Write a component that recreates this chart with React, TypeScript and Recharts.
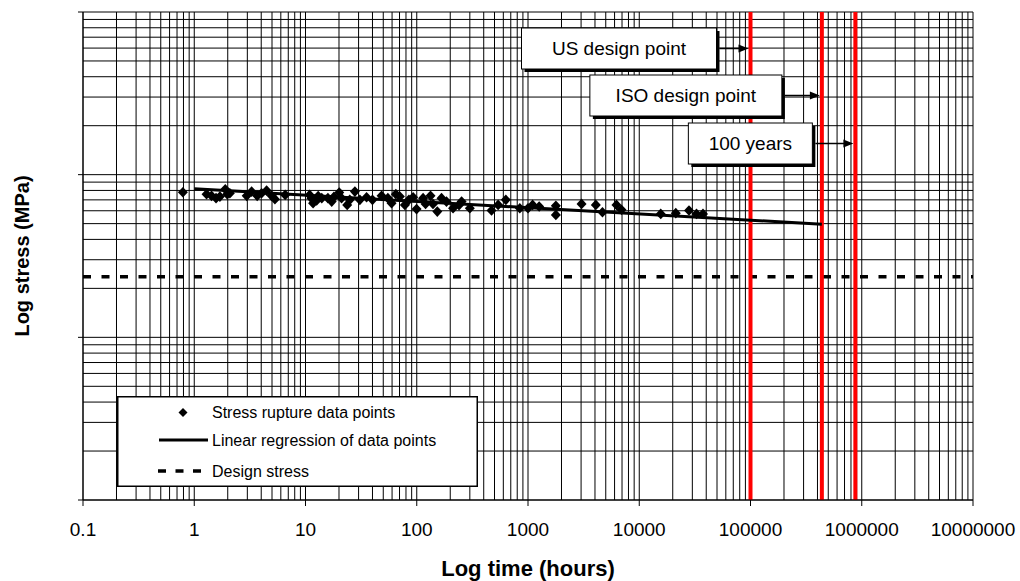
import { ScatterChart, Scatter, XAxis, YAxis, ReferenceLine, Legend } from "recharts"

const FONT = "'Liberation Sans', Arial, Helvetica, sans-serif"

// stress rupture test results
const ruptureHours = [
  0.79, 1.29, 1.43, 1.57, 1.7, 1.9, 1.98, 2.09, 2.96, 3.28,
  3.68, 4.03, 4.47, 4.96, 5.31, 6.57, 10.9, 11.3, 11.7, 12.6,
  13, 14, 15.9, 17.2, 18, 20.1, 21.1, 23.7, 25, 27.8,
  30.8, 35.4, 40, 48.3, 55, 59.4, 64.9, 70.5, 78.2, 85,
  92.8, 99.6, 114, 120, 133, 140, 153, 167, 185, 212,
  240, 253, 300, 470, 539, 632, 844, 1000, 1100, 1260,
  1780, 1780, 3030, 4070, 4670, 6240, 6920, 15600, 21300, 28000,
  32700, 37400,
]
const ruptureStress = [
  78.0, 75.9, 74.1, 71.7, 73.3, 81.4, 75.9, 76.9, 74.1, 78.7,
  74.1, 76.9, 79.8, 74.1, 70.7, 75.1, 75.1, 71.7, 66.8, 69.3,
  74, 71.7, 71.7, 68.3, 73, 77.6, 71.7, 65.2, 70, 78.7,
  70.0, 72.7, 70, 74.1, 71.7, 66.8, 75.9, 73.3, 65.2, 70,
  72.7, 61.4, 71.7, 66, 74.1, 66, 59.3, 71.7, 68.3, 62.2,
  65, 68.3, 62.2, 60.2, 65.2, 70.0, 62.2, 62.2, 65.2, 63.7,
  64.3, 56.6, 66.1, 65.2, 58.8, 65.2, 60.8, 57.4, 58.0, 60.2,
  57.4, 57.4,
]

// regression line end points
const regressionHours = [1, 438000]
const regressionStress = [81.8, 49.6]

const designStress = 23.6

const designLabels = ["US design point", "ISO design point", "100 years"]
const designHours = [100000, 438000, 876000]
// callout box placement: gap to the red line, box width, top below plot top
const callouts = [
  { gap: 34, w: 195, top: 16 },
  { gap: 40, w: 192, top: 63 },
  { gap: 43, w: 124, top: 111 },
]

const xTicks = [0.1, 1, 10, 100, 1000, 10000, 100000, 1000000, 10000000]
const yTicks = [1, 10, 100, 1000]

const xGrid: number[] = []
xTicks.slice(0, -1).forEach((d) => {
  for (let m = 1; m < 10; m++) xGrid.push(d * m)
})
xGrid.push(10000000)
const yGrid: number[] = []
yTicks.slice(0, -1).forEach((d) => {
  for (let m = 1; m < 10; m++) yGrid.push(d * m)
})
yGrid.push(1000)

const points = ruptureHours.map((t, i) => ({ t, s: ruptureStress[i] }))
const regression = regressionHours.map((t, i) => ({ t, s: regressionStress[i] }))

const Diamond = (props: any) => {
  const { cx, cy } = props
  if (cx == null || cy == null) return <g />
  return <path d={`M${cx},${cy - 5.3}L${cx + 5},${cy}L${cx},${cy + 5.3}L${cx - 5},${cy}Z`} fill="#000" />
}

const callout = (text: string, lay: { gap: number; w: number; top: number }) => (props: any) => {
  const lx = props.viewBox.x
  const right = lx - lay.gap
  const left = right - lay.w
  const top = props.viewBox.y + lay.top
  const cy = top + 20.5
  return (
    <g>
      <rect x={left + 3} y={top + 3} width={lay.w} height={41} fill="#000" />
      <rect x={left} y={top} width={lay.w} height={41} fill="#fff" stroke="#000" strokeWidth={1} />
      <text x={left + lay.w / 2} y={cy + 6.8} textAnchor="middle" fontSize={19} fontFamily={FONT} fill="#000">
        {text}
      </text>
      <line x1={right + 3} y1={cy} x2={lx - 10} y2={cy} stroke="#000" strokeWidth={1.5} />
      <path d={`M${lx - 2},${cy}L${lx - 12},${cy - 4}L${lx - 12},${cy + 4}Z`} fill="#000" />
    </g>
  )
}

const LegendBox = () => (
  <svg width={361} height={91} style={{ display: "block" }}>
    <rect x={0.75} y={0.75} width={359.5} height={89.5} fill="#fff" stroke="#000" strokeWidth={1.5} />
    <path d="M66,12L70.5,16.5L66,21L61.5,16.5Z" fill="#000" />
    <line x1={42} y1={44} x2={91} y2={44} stroke="#000" strokeWidth={3} />
    <line x1={41} y1={75} x2={85} y2={75} stroke="#000" strokeWidth={3.5} strokeDasharray="8 9.5" />
    <g fontFamily={FONT} fontSize={16} fill="#000">
      <text x={95} y={21.7}>Stress rupture data points</text>
      <text x={95} y={49.7}>Linear regression of data points</text>
      <text x={95} y={80.7}>Design stress</text>
    </g>
  </svg>
)

export default function App() {
  return (
    <div style={{ position: "absolute", left: 0, top: 0 }}>
      <ScatterChart width={1020} height={581} margin={{ top: 12, right: 47, bottom: 0, left: 73 }}>
        <XAxis
          dataKey="t"
          type="number"
          scale="log"
          domain={[0.1, 10000000]}
          ticks={xTicks}
          allowDataOverflow
          height={81}
          tickSize={6}
          tickMargin={17}
          tick={{ fill: "#000", fontSize: 19, fontFamily: FONT }}
          axisLine={{ stroke: "#000" }}
          tickLine={{ stroke: "#000" }}
          label={{ value: "Log time (hours)", position: "insideBottom", offset: 5, fontSize: 22, fontWeight: 700, fill: "#000", fontFamily: FONT }}
        />
        <YAxis
          dataKey="s"
          type="number"
          scale="log"
          domain={[1, 1000]}
          ticks={yTicks}
          allowDataOverflow
          width={10}
          tickSize={5}
          tickFormatter={() => ""}
          axisLine={{ stroke: "#000" }}
          tickLine={{ stroke: "#000" }}
          label={(p: any) => (
            <text
              x={22}
              y={p.viewBox.y + p.viewBox.height / 2}
              transform={`rotate(-90 22 ${p.viewBox.y + p.viewBox.height / 2})`}
              textAnchor="middle"
              dominantBaseline="central"
              fontSize={20}
              fontWeight={700}
              fontFamily={FONT}
              fill="#000"
            >
              Log stress (MPa)
            </text>
          )}
        />
        {xGrid.map((v) => (
          <ReferenceLine key={`gx${v}`} x={v} stroke="#000" strokeWidth={1} />
        ))}
        {yGrid.map((v) => (
          <ReferenceLine key={`gy${v}`} y={v} stroke="#000" strokeWidth={1} />
        ))}
        <ReferenceLine y={designStress} stroke="#000" strokeWidth={3.5} strokeDasharray="8 10.5" />
        {designHours.map((h, i) => (
          <ReferenceLine key={`d${h}`} x={h} stroke="#ff0000" strokeWidth={4} label={callout(designLabels[i], callouts[i])} />
        ))}
        <Scatter data={regression} line={{ stroke: "#000", strokeWidth: 3 }} shape={() => <g />} isAnimationActive={false} />
        <Scatter data={points} shape={Diamond} isAnimationActive={false} />
        <Legend
          layout="horizontal"
          verticalAlign="middle"
          align="center"
          content={() => <LegendBox />}
          wrapperStyle={{ position: "absolute", left: 117, top: 396, width: 361, height: 91 }}
        />
      </ScatterChart>
    </div>
  )
}
